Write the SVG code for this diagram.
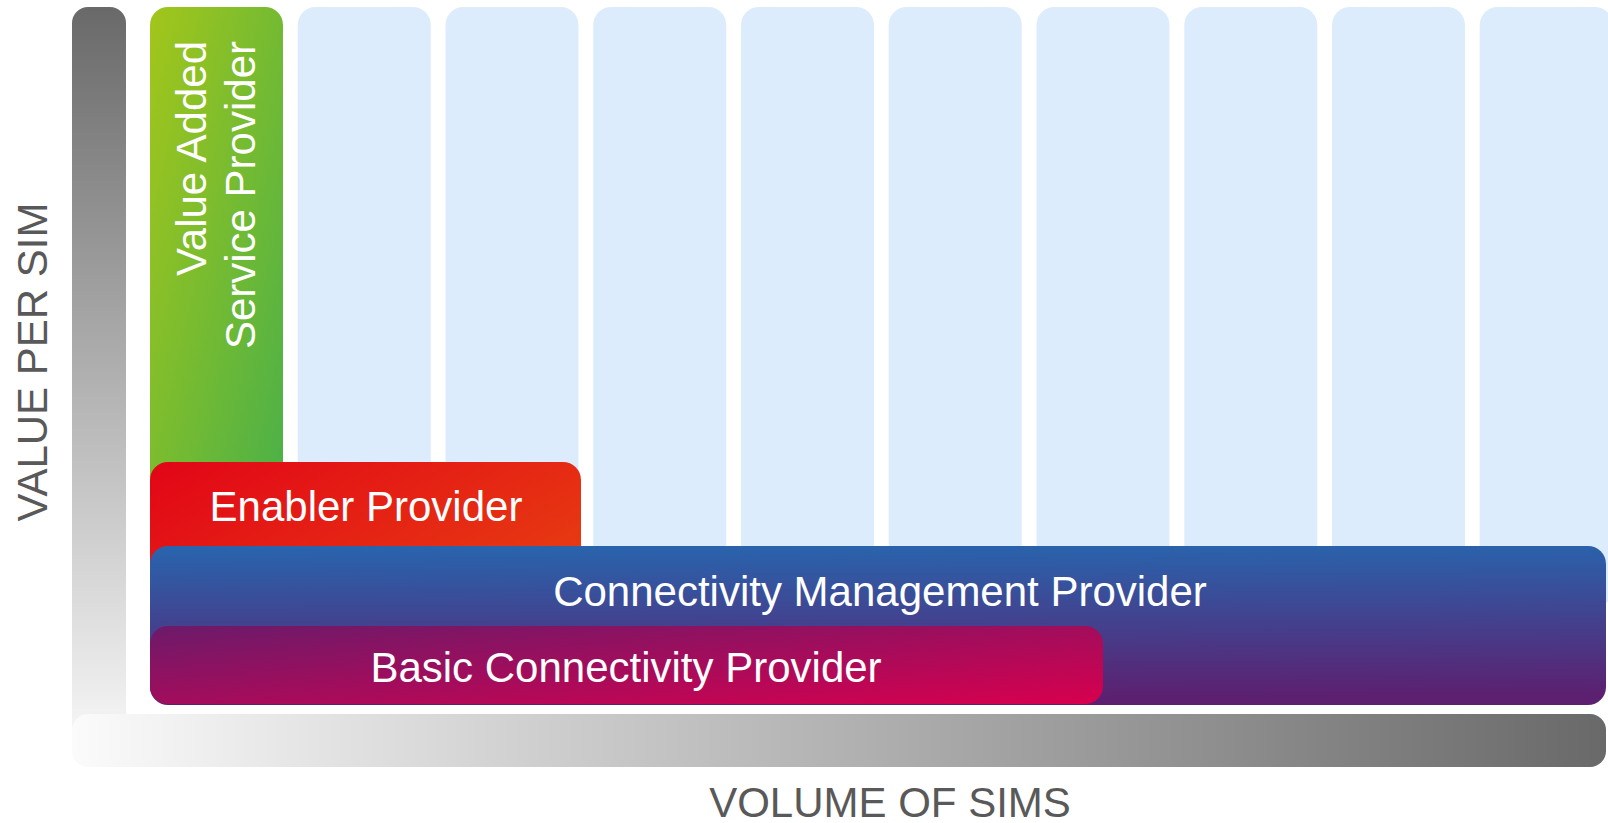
<svg xmlns="http://www.w3.org/2000/svg" width="1608" height="823" viewBox="0 0 1608 823">
  <style>
    .lbl { font-family: "Liberation Sans", Arial, sans-serif; font-size: 42px; fill: #ffffff; }
    .axis { font-family: "Liberation Sans", Arial, sans-serif; font-size: 42px; fill: #595959; }
    .col { fill: #dcecfc; }
  </style>
  <defs>
    <linearGradient id="gV" x1="0" y1="0" x2="0" y2="1">
      <stop offset="0" stop-color="#696969"/>
      <stop offset="1" stop-color="#fbfbfb"/>
    </linearGradient>
    <linearGradient id="gH" x1="0" y1="0" x2="1" y2="0">
      <stop offset="0" stop-color="#fbfbfb"/>
      <stop offset="1" stop-color="#696969"/>
    </linearGradient>
    <linearGradient id="gGreen" x1="0" y1="0" x2="1" y2="1">
      <stop offset="0" stop-color="#a3c61a"/>
      <stop offset="1" stop-color="#45af4b"/>
    </linearGradient>
    <linearGradient id="gRed" x1="0" y1="0" x2="1" y2="1">
      <stop offset="0" stop-color="#e20517"/>
      <stop offset="1" stop-color="#e9520f"/>
    </linearGradient>
    <linearGradient id="gBlue" x1="0" y1="0" x2="0.05" y2="1">
      <stop offset="0" stop-color="#2865ae"/>
      <stop offset="1" stop-color="#5d1f6f"/>
    </linearGradient>
    <linearGradient id="gPurple" x1="0" y1="0" x2="1" y2="1">
      <stop offset="0" stop-color="#6c1a6a"/>
      <stop offset="1" stop-color="#d8004e"/>
    </linearGradient>
  </defs>
  <rect width="1608" height="823" fill="#ffffff"/>

  <g id="axes">
    <rect x="72" y="7" width="54" height="758" rx="16" fill="url(#gV)"/>
    <rect x="72" y="714" width="1534" height="53" rx="16" fill="url(#gH)"/>
    <text class="axis" transform="translate(47,362) rotate(-90)" text-anchor="middle">VALUE PER SIM</text>
    <text class="axis" x="890" y="817" text-anchor="middle">VOLUME OF SIMS</text>
  </g>

  <g id="columns">
    <rect class="col" x="297.75" y="7" width="133" height="600" rx="18"/>
    <rect class="col" x="445.5" y="7" width="133" height="600" rx="18"/>
    <rect class="col" x="593.25" y="7" width="133" height="600" rx="18"/>
    <rect class="col" x="741" y="7" width="133" height="600" rx="18"/>
    <rect class="col" x="888.75" y="7" width="133" height="600" rx="18"/>
    <rect class="col" x="1036.5" y="7" width="133" height="600" rx="18"/>
    <rect class="col" x="1184.25" y="7" width="133" height="600" rx="18"/>
    <rect class="col" x="1332" y="7" width="133" height="600" rx="18"/>
    <rect class="col" x="1479.75" y="7" width="133" height="600" rx="18"/>
  </g>

  <g id="value-added">
    <rect x="150" y="7" width="133" height="560" rx="18" fill="url(#gGreen)"/>
    <text class="lbl" transform="translate(206,41) rotate(-90)" text-anchor="end">Value Added</text>
    <text class="lbl" transform="translate(255,41) rotate(-90)" text-anchor="end">Service Provider</text>
  </g>

  <g id="enabler">
    <rect x="150" y="462" width="431" height="242" rx="18" fill="url(#gRed)"/>
    <text class="lbl" x="366" y="520.5" text-anchor="middle">Enabler Provider</text>
  </g>

  <g id="connectivity">
    <rect x="150" y="546" width="1456" height="159" rx="18" fill="url(#gBlue)"/>
    <text class="lbl" x="880" y="606" text-anchor="middle">Connectivity Management Provider</text>
  </g>

  <g id="basic">
    <rect x="150" y="626" width="953" height="78" rx="18" fill="url(#gPurple)"/>
    <text class="lbl" x="626" y="682" text-anchor="middle">Basic Connectivity Provider</text>
  </g>

  <g id="connectors"></g>
</svg>
